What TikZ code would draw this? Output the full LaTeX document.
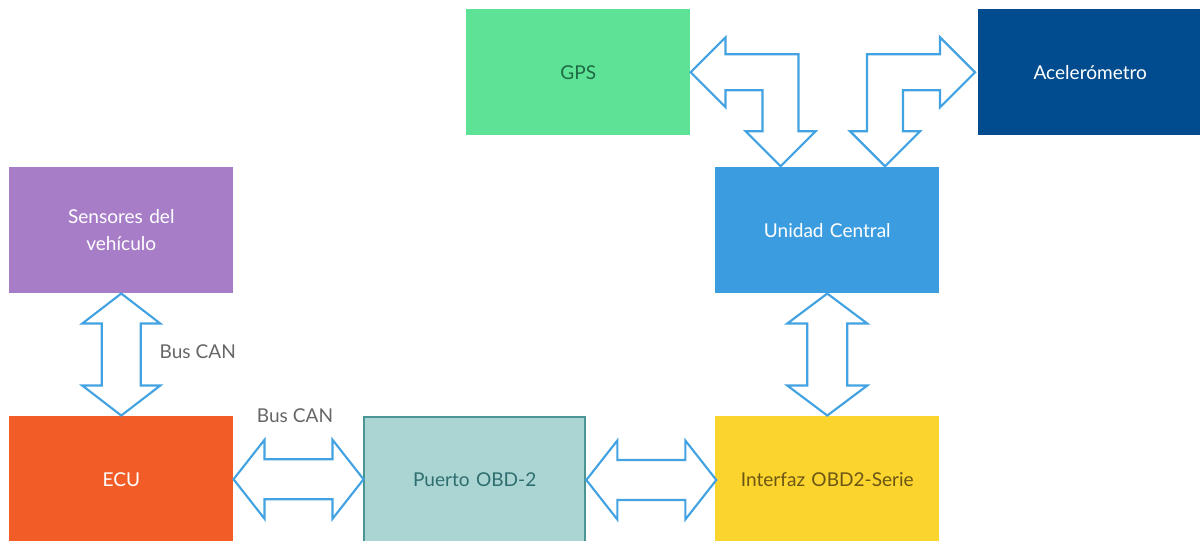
\documentclass[tikz,border=0pt]{standalone}
\usepackage{fontspec}
\setmainfont{Lato}
\usetikzlibrary{calc}

\definecolor{arrowblue}{HTML}{43A3E2}
\definecolor{gpsgreen}{HTML}{5DE296}
\definecolor{gpstext}{HTML}{1F6A44}
\definecolor{acelblue}{HTML}{004C8F}
\definecolor{senspurple}{HTML}{A87DC8}
\definecolor{ucblue}{HTML}{3B9DE0}
\definecolor{ecuorange}{HTML}{F25C27}
\definecolor{obdfill}{HTML}{ABD5D2}
\definecolor{obdline}{HTML}{4B9597}
\definecolor{obdtext}{HTML}{2F6E70}
\definecolor{intfyellow}{HTML}{FCD42E}
\definecolor{intftext}{HTML}{6B5614}
\definecolor{labelgray}{HTML}{666666}

\tikzset{
  block/.style={rectangle, anchor=north west, minimum width=168pt, minimum height=94.5pt,
    inner sep=2pt, align=center, text width=150pt, font=\fontsize{14.3}{20}\selectfont},
  hollow/.style={draw=arrowblue, line width=1.6pt, line join=miter, fill=white},
  buslabel/.style={text=labelgray, font=\fontsize{14.3}{17}\selectfont}
}

\begin{document}
\begin{tikzpicture}[x=0.75pt,y=-0.75pt]
    \useasboundingbox (0,0) rectangle (1200,541);

    % bloques
    \node[block, fill=gpsgreen, text=gpstext] (gps) at (466,9) {GPS};
    \node[block, fill=acelblue, text=white] (acel) at (978,9) {Acelerómetro};
    \node[block, fill=senspurple, text=white] (sens) at (9,167) {Sensores del\\vehículo};
    \node[block, fill=ucblue, text=white] (uc) at (715,167) {Unidad Central};
    \node[block, fill=ecuorange, text=white] (ecu) at (9,416) {ECU};
    \node[block, fill=obdfill, draw=obdline, line width=1.5pt, text=obdtext,
          minimum width=166pt] (obd) at (363,416) {Puerto OBD-2};
    \node[block, fill=intfyellow, text=intftext] (intf) at (715,416) {Interfaz OBD2-Serie};

    % flechas dobles verticales
    \draw[hollow] (sens.south) -- ++(39,30) -- ++(-19.5,0) -- ++(0,62) -- ++(19.5,0)
        -- ++(-39,30) -- ++(-39,-30) -- ++(19.5,0) -- ++(0,-62) -- ++(-19.5,0) -- cycle;
    \draw[hollow] (uc.south) -- ++(40,30) -- ++(-20,0) -- ++(0,62) -- ++(20,0)
        -- ++(-40,30) -- ++(-40,-30) -- ++(20,0) -- ++(0,-62) -- ++(-20,0) -- cycle;

    % flechas dobles horizontales
    \draw[hollow] (ecu.east) -- ++(31,-39.5) -- ++(0,19.5) -- ++(68,0) -- ++(0,-19.5)
        -- ++(31,39.5) -- ++(-31,39.5) -- ++(0,-19.5) -- ++(-68,0) -- ++(0,19.5) -- cycle;
    \draw[hollow] (obd.east) -- ++(31,-39.5) -- ++(0,19.5) -- ++(68,0) -- ++(0,-19.5)
        -- ++(31,39.5) -- ++(-31,39.5) -- ++(0,-19.5) -- ++(-68,0) -- ++(0,19.5) -- cycle;

    % flechas en codo hacia la unidad central
    \draw[hollow] (gps.east) -- ++(35,-35) -- ++(0,17) -- ++(73,0) -- ++(0,77) -- ++(17,0)
        -- ++(-35,35) -- ++(-35,-35) -- ++(17,0) -- ++(0,-41) -- ++(-37,0) -- ++(0,17) -- cycle;
    \draw[hollow] ($(acel.west)+(-3,0)$) -- ++(-35,-35) -- ++(0,17) -- ++(-73,0) -- ++(0,77) -- ++(-17,0)
        -- ++(35,35) -- ++(35,-35) -- ++(-17,0) -- ++(0,-41) -- ++(37,0) -- ++(0,17) -- cycle;

    % etiquetas del bus
    \node[buslabel, anchor=west] (can1) at (155,352) {Bus CAN};
    \node[buslabel] (can2) at (295,416) {Bus CAN};
\end{tikzpicture}
\end{document}
